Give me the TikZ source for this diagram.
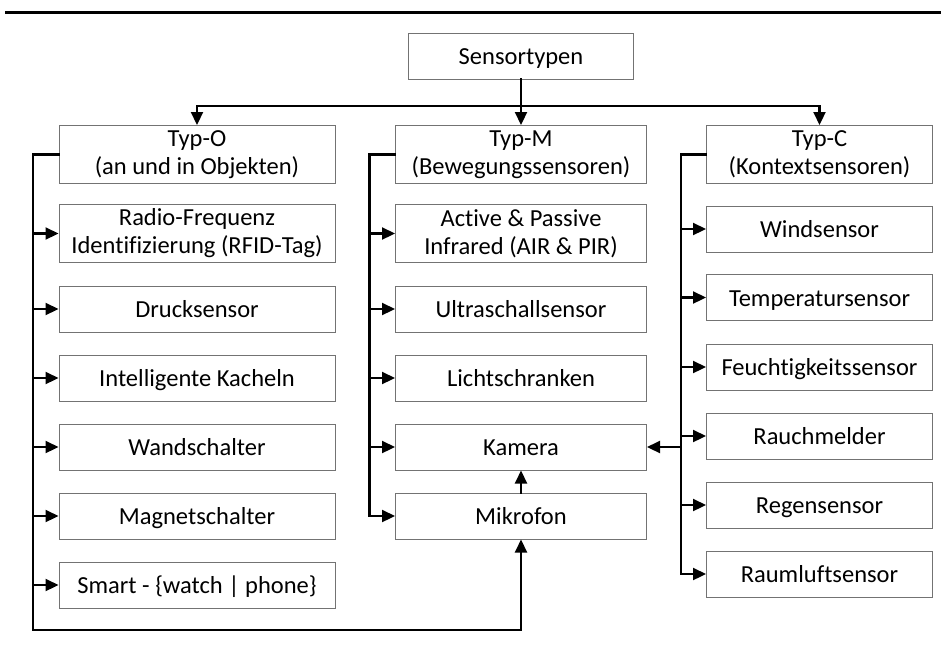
\documentclass[tikz,border=0pt]{standalone}
\usepackage{fontspec}
\setmainfont{Carlito}[RawFeature={-liga,-clig,-dlig}]
\usetikzlibrary{arrows.meta}
\begin{document}
\begin{tikzpicture}[x=1pt,y=-1pt,
  box/.style={draw=black!55,line width=1pt,rectangle,inner sep=0pt,
    font=\fontsize{24.5}{28}\selectfont,align=center},
  sbox/.style={box,minimum height=46pt,text height=21.8pt,text depth=4.6pt},
  tbox/.style={box,minimum height=58pt},
  colO/.style={minimum width=276pt},
  colM/.style={minimum width=251pt},
  colC/.style={minimum width=226pt},
  conn/.style={line width=2.2pt,line cap=rect},
  arr/.style={conn,-{Triangle[length=13pt,width=12pt]}},
]
\useasboundingbox (0,0) rectangle (941,646);
\draw[line width=3pt] (5,12) -- (941,12);

% root and the three groups
\node[sbox,minimum width=225pt] (root) at (521,56) {Sensortypen};
\node[tbox,colO] (typO) at (197,154.5) {Typ-O\\(an und in Objekten)};
\node[tbox,colM] (typM) at (521,154.5) {Typ-M\\(Bewegungssensoren)};
\node[tbox,colC] (typC) at (819.5,154.5) {Typ-C\\(Kontextsensoren)};

% Typ-O column
\node[tbox,colO] (rfid) at (197,233.5) {Radio-Frequenz\\Identifizierung (RFID-Tag)};
\node[sbox,colO] (druck) at (197,309) {Drucksensor};
\node[sbox,colO] (kachel) at (197,378) {Intelligente Kacheln};
\node[sbox,colO] (wand) at (197,447) {Wandschalter};
\node[sbox,colO] (magnet) at (197,516) {Magnetschalter};
\node[sbox,colO] (smart) at (197,585) {Smart - \{watch | phone\}};

% Typ-M column
\node[tbox,colM] (pir) at (521,233.5) {Active \& Passive\\Infrared (AIR \& PIR)};
\node[sbox,colM] (ultra) at (521,309) {Ultraschallsensor};
\node[sbox,colM] (licht) at (521,378) {Lichtschranken};
\node[sbox,colM] (kamera) at (521,447) {Kamera};
\node[sbox,colM] (mikro) at (521,516) {Mikrofon};

% Typ-C column
\node[sbox,colC] (wind) at (819.5,229) {Windsensor};
\node[sbox,colC] (temp) at (819.5,297.5) {Temperatursensor};
\node[sbox,colC] (feucht) at (819.5,367) {Feuchtigkeitssensor};
\node[sbox,colC] (rauch) at (819.5,436) {Rauchmelder};
\node[sbox,colC] (regen) at (819.5,505) {Regensensor};
\node[sbox,colC] (raum) at (819.5,574) {Raumluftsensor};

% bus coordinates
\coordinate (split) at (521,106);
\coordinate (splitL) at (197,106);
\coordinate (splitR) at (819.5,106);
\coordinate (busO) at (33,154.5);
\coordinate (busOend) at (33,630);
\coordinate (loopR) at (521,630);
\coordinate (busM) at (369.5,154.5);
\coordinate (busC) at (681,154.5);

% root to groups
\draw[conn] (root.south) -- (split);
\draw[conn] (splitL) -- (splitR);
\draw[arr] (split) -- (typM.north);
\draw[arr] (splitL) -- (typO.north);
\draw[arr] (splitR) -- (typC.north);

% Typ-O bus
\draw[conn] (typO.west) -- (busO) -- (busOend) -- (loopR);
\draw[arr] (loopR) -- (mikro.south);
\foreach \n in {rfid,druck,kachel,wand,magnet,smart}
  \draw[arr] (busO |- \n.west) -- (\n.west);

% Typ-M bus
\draw[conn] (typM.west) -- (busM) -- (busM |- mikro.west);
\foreach \n in {pir,ultra,licht,kamera,mikro}
  \draw[arr] (busM |- \n.west) -- (\n.west);
\draw[arr] (mikro.north) -- (kamera.south);

% Typ-C bus
\draw[conn] (typC.west) -- (busC) -- (busC |- raum.west);
\foreach \n in {wind,temp,feucht,rauch,regen,raum}
  \draw[arr] (busC |- \n.west) -- (\n.west);
\draw[arr] (busC |- kamera.east) -- (kamera.east);
\end{tikzpicture}
\end{document}
